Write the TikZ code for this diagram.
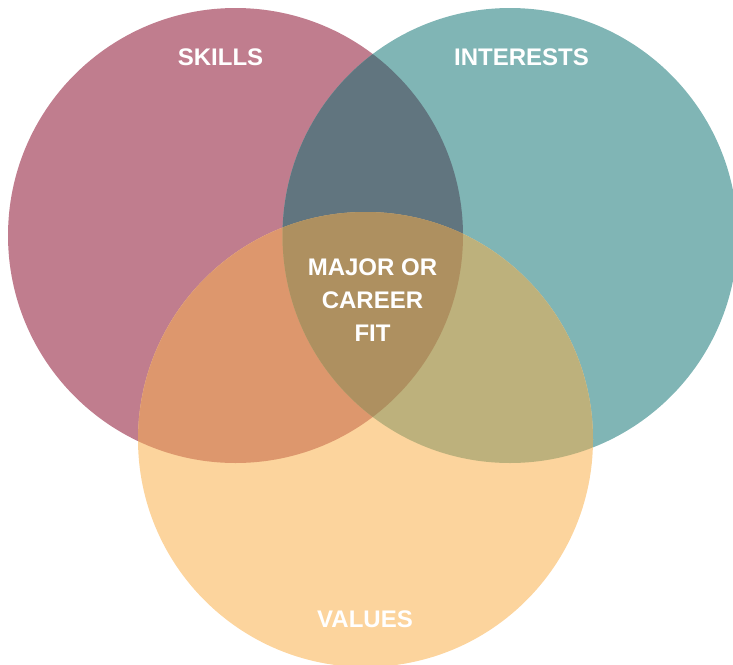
\documentclass[tikz,border=0pt]{standalone}
\usepackage{fontspec}
\setmainfont{Liberation Sans}
\definecolor{cS}{RGB}{192,125,142}
\definecolor{cI}{RGB}{128,181,181}
\definecolor{cV}{RGB}{252,212,157}
\definecolor{cSI}{RGB}{97,117,127}
\definecolor{cSV}{RGB}{221,151,109}
\definecolor{cIV}{RGB}{189,177,124}
\definecolor{cSIV}{RGB}{174,144,96}
\begin{document}
\begin{tikzpicture}[x=1pt,y=-1pt,
  lbl/.style={text=white,font=\fontsize{24}{33}\selectfont\bfseries,align=center,inner sep=0pt}]
\useasboundingbox (0,0) rectangle (733,664);
\def\R{227.5}
\coordinate (s) at (235.5,235.5);
\coordinate (i) at (510,235.5);
\coordinate (v) at (365.5,439.5);
\begin{scope}
\clip (0,0) rectangle (733,664);
\fill[cS] (s) circle (\R);
\fill[cI] (i) circle (\R);
\fill[cV] (v) circle (\R);
\begin{scope}\clip (s) circle (\R); \fill[cSI] (i) circle (\R);\end{scope}
\begin{scope}\clip (s) circle (\R); \fill[cSV] (v) circle (\R);\end{scope}
\begin{scope}\clip (i) circle (\R); \fill[cIV] (v) circle (\R);\end{scope}
\begin{scope}\clip (s) circle (\R); \clip (i) circle (\R); \fill[cSIV] (v) circle (\R);\end{scope}
\end{scope}
\node[lbl,anchor=base] (skills) at (220.5,65) {SKILLS};
\node[lbl,anchor=base] (interests) at (521.5,65) {INTERESTS};
\node[lbl] (fit) at (372.5,300) {MAJOR OR\\CAREER\\FIT};
\node[lbl,anchor=base] (values) at (365,627) {VALUES};
\end{tikzpicture}
\end{document}
